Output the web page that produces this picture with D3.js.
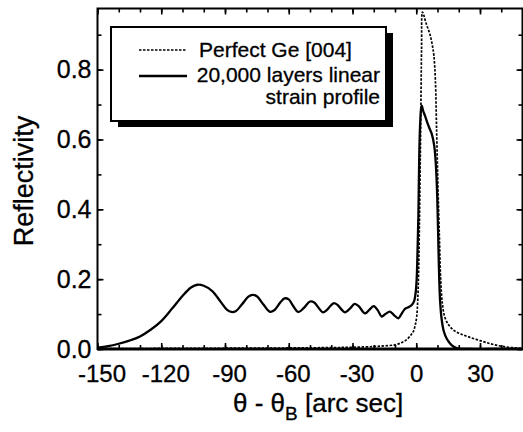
<!DOCTYPE html>
<html>
<head>
<meta charset="utf-8">
<script src="https://cdn.jsdelivr.net/npm/d3@7"></script>
<style>
  html, body { margin: 0; padding: 0; background: #fff; }
  svg { display: block; }
  text { font-family: "Liberation Sans", Arial, Helvetica, sans-serif; fill: #000; stroke: #000; stroke-width: 0.3px; }
</style>
</head>
<body>
<svg id="chart" width="523" height="432"></svg>
<script>
// Rocking curves: angle offset from Bragg angle (arc sec) vs reflectivity
const perfectX = [-150, -100, -60, -40, -30, -20, -15, -10, -7, -4.5, -2.5, -1.4, -0.5, 0.2, 0.7, 1.1, 1.5, 1.8, 2.1, 2.5, 2.9, 3.6, 4.5, 5.5, 6.5, 7.5, 8.3, 9.0, 9.6, 10.2, 10.9, 11.5, 12.3, 13.5, 15.5, 18, 21, 25, 30, 35, 40, 45, 50];
const perfectY = [0.001, 0.002, 0.003, 0.004, 0.005, 0.007, 0.009, 0.012, 0.018, 0.027, 0.04, 0.05, 0.068, 0.092, 0.14, 0.22, 0.36, 0.5, 0.64, 0.86, 0.965, 0.955, 0.935, 0.918, 0.9, 0.872, 0.84, 0.77, 0.62, 0.47, 0.32, 0.2, 0.13, 0.09, 0.067, 0.052, 0.043, 0.034, 0.024, 0.015, 0.008, 0.004, 0.002];

const strainX = [-150, -145, -140, -135, -130, -125, -120, -115, -110, -106, -103, -100, -96, -92, -89, -87, -85, -82, -79, -77, -75, -72, -69, -67, -64, -62, -60, -58, -55.5, -53, -50, -48, -46, -44, -42, -39, -37, -35, -33.5, -31, -29, -27, -25, -24, -22, -20, -18, -16.3, -14.5, -12.4, -10.5, -8.4, -7, -5.3, -3.5, -2, -1, -0.3, 0.2, 0.6, 1.0, 1.4, 1.8, 2.3, 2.6, 3.2, 4.1, 5.2, 6.2, 7.3, 8.5, 9.3, 9.9, 10.6, 11.2, 12.0, 13.0, 14.3, 15.9, 17.5, 19.5, 25, 35, 50];
const strainY = [0.004, 0.008, 0.015, 0.024, 0.036, 0.055, 0.08, 0.115, 0.152, 0.176, 0.184, 0.181, 0.166, 0.135, 0.112, 0.106, 0.108, 0.128, 0.15, 0.155, 0.151, 0.128, 0.107, 0.11, 0.133, 0.145, 0.142, 0.124, 0.106, 0.117, 0.136, 0.133, 0.118, 0.105, 0.112, 0.131, 0.126, 0.112, 0.105, 0.117, 0.129, 0.122, 0.106, 0.102, 0.113, 0.123, 0.11, 0.093, 0.1, 0.107, 0.097, 0.088, 0.1, 0.115, 0.12, 0.127, 0.137, 0.16, 0.2, 0.28, 0.38, 0.55, 0.64, 0.69, 0.697, 0.683, 0.668, 0.648, 0.632, 0.616, 0.58, 0.52, 0.43, 0.25, 0.14, 0.083, 0.05, 0.03, 0.016, 0.007, 0.002, 0, 0, 0];

const xMajor = [-150, -120, -90, -60, -30, 0, 30];
const xMinor = d3.range(-150, 51, 10);
const yMajor = [0, 0.2, 0.4, 0.6, 0.8];
const yMinor = d3.range(0, 0.96, 0.1);

const legendLabels = ["Perfect Ge [004]", "20,000 layers linear", "strain profile"];

const svg = d3.select("#chart");
svg.append("rect").attr("width", 523).attr("height", 432).attr("fill", "#fff");

const plotL = 97.5, plotR = 522.5, plotT = 8.5, plotB = 349;
const x = d3.scaleLinear().domain([-150, 50]).range([plotL, plotR]);
const y = d3.scaleLinear().domain([0, 0.975]).range([plotB, plotT]);

// clip for data lines
svg.append("clipPath").attr("id", "plotclip")
  .append("rect").attr("x", plotL).attr("y", plotT - 2).attr("width", plotR - plotL).attr("height", plotB - plotT + 2);

const line = d3.line().x(d => x(d[0])).y(d => y(d[1])).curve(d3.curveCatmullRom.alpha(0.5));

const plot = svg.append("g").attr("clip-path", "url(#plotclip)");
plot.append("path")
  .datum(perfectX.map((v, i) => [v, perfectY[i]]))
  .attr("d", line).attr("fill", "none").attr("stroke", "#000")
  .attr("stroke-width", 1.7).attr("stroke-dasharray", "2.5,1.5");
plot.append("path")
  .datum(strainX.map((v, i) => [v, strainY[i]]))
  .attr("d", line).attr("fill", "none").attr("stroke", "#000")
  .attr("stroke-width", 2.3).attr("stroke-linejoin", "round");

// axes: ticks point into the plot on all four sides
function styleAxis(g) {
  g.select(".domain").remove();
  g.selectAll("line").attr("stroke", "#000").attr("stroke-width", 1.6);
}
svg.append("g").attr("transform", `translate(0,${plotB})`)
  .call(d3.axisBottom(x).tickValues(xMinor).tickSize(-4).tickFormat(""))
  .call(styleAxis);
svg.append("g").attr("transform", `translate(0,${plotT})`)
  .call(d3.axisTop(x).tickValues(xMinor).tickSize(-4).tickFormat(""))
  .call(styleAxis);
svg.append("g").attr("transform", `translate(0,${plotT})`)
  .call(d3.axisTop(x).tickValues(xMajor).tickSize(-6).tickFormat(""))
  .call(styleAxis);
const xAx = svg.append("g").attr("transform", `translate(0,${plotB})`)
  .call(d3.axisBottom(x).tickValues(xMajor).tickSize(-6).tickPadding(16).tickFormat(d => String(d)))
  .call(styleAxis);
xAx.selectAll("text").attr("font-size", 24)
  .attr("dx", d => d < 0 ? 4 : 0)
  .style("font-family", "'Liberation Sans', Arial, sans-serif");

svg.append("g").attr("transform", `translate(${plotL},0)`)
  .call(d3.axisLeft(y).tickValues(yMinor).tickSize(-4).tickFormat(""))
  .call(styleAxis);
svg.append("g").attr("transform", `translate(${plotR},0)`)
  .call(d3.axisRight(y).tickValues(yMinor).tickSize(-4).tickFormat(""))
  .call(styleAxis);
svg.append("g").attr("transform", `translate(${plotR},0)`)
  .call(d3.axisRight(y).tickValues(yMajor).tickSize(-6).tickFormat(""))
  .call(styleAxis);
const yAx = svg.append("g").attr("transform", `translate(${plotL},0)`)
  .call(d3.axisLeft(y).tickValues(yMajor).tickSize(-6).tickPadding(6).tickFormat(d3.format(".1f")))
  .call(styleAxis);
yAx.selectAll("text").attr("font-size", 25)
  .style("font-family", "'Liberation Sans', Arial, sans-serif");

// frame
svg.append("rect").attr("x", plotL).attr("y", plotT).attr("width", plotR - plotL).attr("height", plotB - plotT)
  .attr("fill", "none").attr("stroke", "#000").attr("stroke-width", 2);
svg.append("line").attr("x1", plotL).attr("x2", plotR).attr("y1", plotB).attr("y2", plotB)
  .attr("stroke", "#000").attr("stroke-width", 2.8);

// axis titles
const xt = svg.append("text").attr("x", 233).attr("y", 412).attr("font-size", 26);
xt.append("tspan").text("θ - θ");
xt.append("tspan").attr("font-size", 19).attr("dy", 8).text("B");
xt.append("tspan").attr("dy", -8).text(" [arc sec]");

svg.append("text").attr("transform", "translate(33,181) rotate(-90)")
  .attr("text-anchor", "middle").attr("font-size", 27).text("Reflectivity");

// legend with drop shadow
const lg = svg.append("g");
lg.append("rect").attr("x", 118).attr("y", 33).attr("width", 275).attr("height", 94).attr("fill", "#000");
lg.append("rect").attr("x", 111).attr("y", 27).attr("width", 275).attr("height", 94)
  .attr("fill", "#fff").attr("stroke", "#000").attr("stroke-width", 2);
lg.append("line").attr("x1", 139).attr("x2", 187).attr("y1", 50).attr("y2", 50)
  .attr("stroke", "#000").attr("stroke-width", 1.6).attr("stroke-dasharray", "2.5,1.5");
lg.append("line").attr("x1", 139).attr("x2", 187).attr("y1", 76).attr("y2", 76)
  .attr("stroke", "#000").attr("stroke-width", 2.3);
lg.append("text").attr("x", 199).attr("y", 57).attr("font-size", 21).text(legendLabels[0]);
lg.append("text").attr("x", 380).attr("y", 82).attr("font-size", 21).attr("text-anchor", "end").text(legendLabels[1]);
lg.append("text").attr("x", 380).attr("y", 104).attr("font-size", 21).attr("text-anchor", "end").text(legendLabels[2]);
</script>
</body>
</html>
